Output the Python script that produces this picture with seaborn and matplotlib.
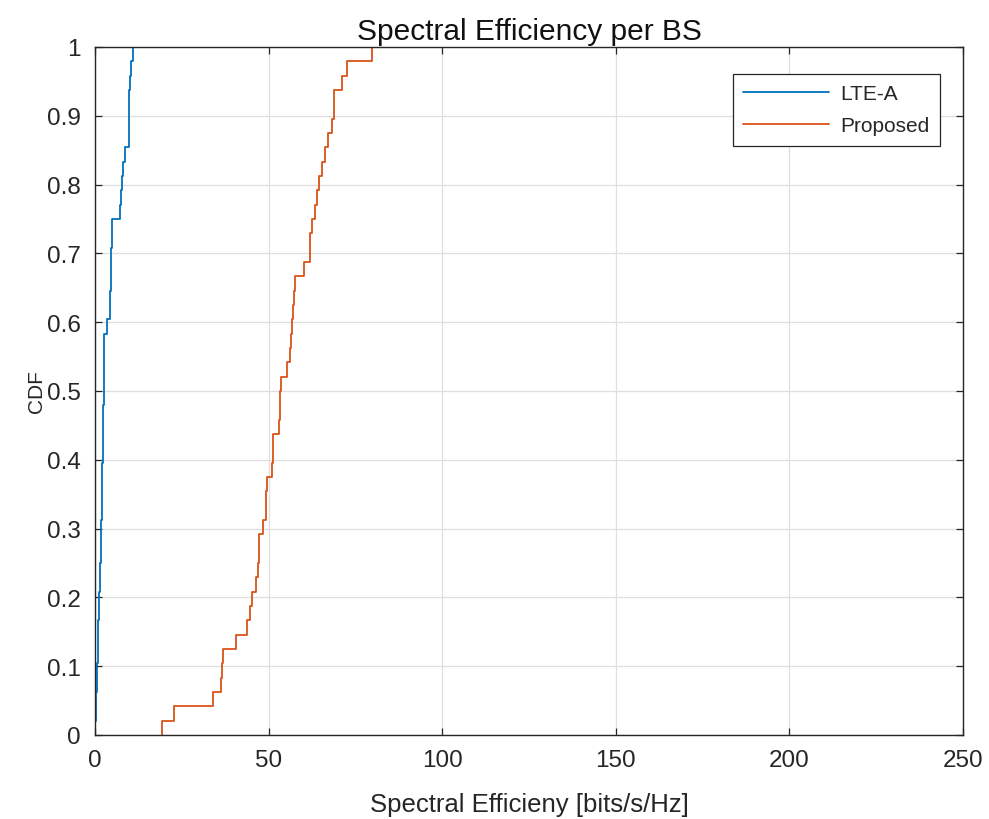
import numpy as np
import pandas as pd
import matplotlib
matplotlib.use("Agg")
import matplotlib.pyplot as plt
import seaborn as sns

# Sample values (per BS)
lte_a = [0.1, 0.25, 0.4, 0.5, 0.6, 0.75, 0.85, 0.95, 1.05, 1.2, 1.35, 1.55,
         1.65, 1.75, 1.8, 1.9, 1.95, 2.0, 2.1, 2.2, 2.25, 2.35, 2.4, 2.5,
         2.55, 2.6, 2.65, 2.7, 3.5, 4.2, 4.35, 4.5, 4.6, 4.7, 4.85, 5.0,
         7.1, 7.6, 7.9, 8.2, 8.5, 9.65, 9.7, 9.8, 9.9, 10.2, 10.5, 11.0]
proposed = [19.2, 22.8, 34.1, 36.3, 36.7, 37.0, 40.6, 43.7, 44.6, 45.3, 46.3, 47.0,
            47.1, 47.2, 48.3, 49.2, 49.3, 49.4, 51.1, 51.2, 51.3, 53.1, 53.2, 53.3,
            53.5, 55.2, 56.2, 56.4, 56.7, 57.0, 57.3, 57.6, 60.3, 61.9, 62.0, 62.6,
            63.3, 63.8, 64.5, 65.4, 66.3, 67.2, 68.2, 68.7, 68.9, 71.0, 72.5, 79.7]
series_names = ["LTE-A", "Proposed"]
series_colors = ["#0072BD", "#D95319"]
x_ticks = [0, 50, 100, 150, 200, 250]
y_ticks = [0, 0.1, 0.2, 0.3, 0.4, 0.5, 0.6, 0.7, 0.8, 0.9, 1]
y_tick_labels = ["0", "0.1", "0.2", "0.3", "0.4", "0.5", "0.6", "0.7", "0.8", "0.9", "1"]

df = pd.DataFrame({
    "value": lte_a + proposed,
    "series": [series_names[0]] * len(lte_a) + [series_names[1]] * len(proposed),
})

sns.set_theme(style="white")
plt.rcParams["font.family"] = ["Liberation Sans", "DejaVu Sans"]

fig = plt.figure(figsize=(9.89, 8.2), dpi=100)
ax = fig.add_axes([95 / 989, 1 - 736 / 820, (963 - 95) / 989, (736 - 48) / 820])

for name, color in zip(series_names, series_colors):
    sns.ecdfplot(data=df[df["series"] == name], x="value", ax=ax,
                 color=color, linewidth=1.3, label=name, zorder=2)

ax.set_xlim(0, 250)
ax.set_ylim(0, 1)
ax.set_xticks(x_ticks)
ax.set_yticks(y_ticks)
ax.set_yticklabels(y_tick_labels)
ax.grid(True, color="#dfdfdf", linewidth=0.9)
ax.set_axisbelow(True)

for sp in ax.spines.values():
    sp.set_visible(True)
    sp.set_color("#262626")
    sp.set_linewidth(1.0)
    sp.set_zorder(3)

ax.tick_params(axis="both", which="both", direction="in", length=5, width=0.9,
               colors="#262626", labelsize=17.5, top=True, right=True,
               bottom=True, left=True)
ax.tick_params(axis="x", pad=10)
ax.tick_params(axis="y", pad=10)

ax.set_title("Spectral Efficiency per BS", fontsize=21.5, color="#111111", pad=6)
ax.set_xlabel("Spectral Efficieny [bits/s/Hz]", fontsize=18.5, color="#262626", labelpad=15)
ax.set_ylabel("CDF", fontsize=15, color="#262626", labelpad=1)

leg = ax.legend(loc="upper right", fontsize=15, frameon=True, fancybox=False,
                edgecolor="#262626", framealpha=1, borderpad=0.5,
                handlelength=4.1, handletextpad=0.55, labelspacing=0.62,
                borderaxespad=0, bbox_to_anchor=((940 - 95) / 868, (736 - 75) / 688))
leg.get_frame().set_linewidth(0.9)

fig.savefig("out.png", dpi=100, facecolor="white")
